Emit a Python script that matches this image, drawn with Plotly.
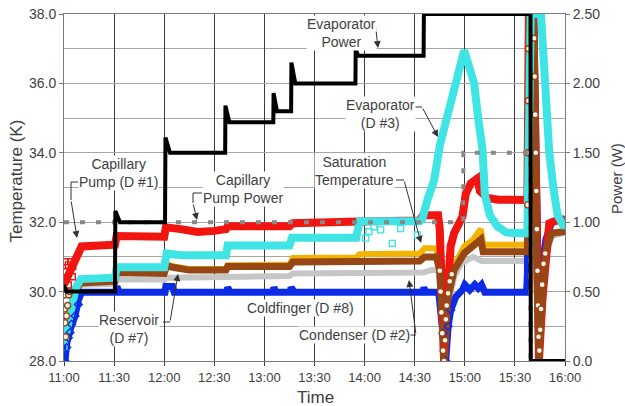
import plotly.graph_objects as go

DAY = "2021-01-01 "


def ts(lst):
    return [DAY + t for t in lst]


# ------------------------------------------------------------------ data
time_ticks = ["11:00", "11:30", "12:00", "12:30", "13:00", "13:30",
              "14:00", "14:30", "15:00", "15:30", "16:00"]
temp_ticks = [28, 30, 32, 34, 36, 38]
power_tickvals = [0.0, 0.5, 1.0, 1.5, 2.0, 2.5]
power_ticktext = ["0.0", "0.50", "1.00", "1.50", "2.00", "2.50"]

# Evaporator power (W)
evap_pw_t = ["11:00:00", "11:01:30", "11:30:30", "11:30:45", "11:33:30", "12:00:30",
             "12:00:45", "12:03:30", "12:36:30", "12:36:40", "12:39:00", "13:05:20",
             "13:05:30", "13:07:30", "13:16:00", "13:16:10", "13:18:30", "13:54:30",
             "13:54:40", "13:56:00", "14:35:20", "14:35:30", "15:39:20", "15:39:30",
             "16:00:00"]
evap_pw = [0.55, 0.50, 0.50, 1.08, 1.00, 1.00,
           1.61, 1.50, 1.50, 1.84, 1.72, 1.72,
           1.93, 1.80, 1.80, 2.15, 2.00, 2.00,
           2.25, 2.20, 2.20, 2.50, 2.50, 0.00,
           0.00]

# Capillary pump power (W)
cap_pw_t = ["11:00:00", "14:59:00", "14:59:10", "15:39:10", "15:39:20", "16:00:00"]
cap_pw = [1.00, 1.00, 1.50, 1.50, 0.00, 0.00]

# Capillary Pump (D #1)  [K]
red_t = ["11:00:00", "11:03:30", "11:06:30", "11:10:30", "11:30:30", "11:31:30", "12:00:00",
         "12:01:00", "12:10:00", "12:20:00", "12:30:00", "12:37:00", "12:38:00", "13:15:00",
         "13:17:00", "13:55:00", "13:57:00", "14:33:00", "14:35:00", "14:44:00", "14:45:00",
         "14:46:00", "14:47:00", "14:47:36", "14:48:30", "14:49:30", "14:51:30", "14:53:36",
         "14:58:36", "15:00:36", "15:03:36", "15:07:36", "15:09:00", "15:13:36", "15:20:00",
         "15:37:30", "15:38:20", "15:41:00", "15:42:30", "15:44:24", "15:46:30", "15:48:36",
         "15:50:36", "15:55:00", "16:00:00"]
red_v = [30.2, 30.55, 30.95, 31.3, 31.35, 31.6, 31.58,
         31.85, 31.8, 31.72, 31.75, 31.8, 31.88, 31.88,
         31.97, 31.97, 32.02, 32.05, 32.2, 32.2, 31.8,
         30.4, 29.0, 28.0, 29.0, 30.24, 31.3, 31.68,
         32.16, 32.83, 33.12, 33.26, 32.9, 32.7, 32.65,
         32.64, 38.0, 38.0, 31.5, 28.0, 29.8, 31.2,
         31.97, 32.05, 32.05]
red_mk_t = ["11:00:36", "11:01:12", "11:02:36", "11:04:00", "11:05:12", "11:00:36",
            "11:02:36", "11:05:00", "14:45:20", "14:45:50", "14:46:20", "14:46:50", "14:47:20"]
red_mk_v = [30.86, 30.57, 30.77, 30.86, 30.72, 30.33,
            30.19, 30.43, 31.5, 30.8, 30.0, 29.2, 28.4]

# Evaporator (D #3)  [K]
cyan_t = ["11:00:00", "11:02:00", "11:04:00", "11:07:00", "11:10:00", "11:30:30", "11:31:30",
          "12:00:00", "12:01:30", "12:10:00", "12:37:00", "12:38:00", "13:15:00", "13:16:30",
          "13:55:00", "13:57:00", "14:33:00", "14:34:36", "14:37:36", "14:41:36", "14:45:00",
          "14:50:00", "14:55:00", "14:59:36", "15:00:36", "15:05:36", "15:08:00", "15:10:36",
          "15:12:00", "15:15:00", "15:19:36", "15:25:00", "15:37:30", "15:38:20", "15:39:30",
          "15:45:36", "15:48:36", "15:50:36", "15:53:00", "15:55:36", "15:59:36", "16:00:00"]
cyan_v = [28.5, 28.9, 29.5, 30.1, 30.36, 30.4, 30.7,
          30.7, 31.1, 31.05, 31.05, 31.33, 31.33, 31.55,
          31.55, 32.03, 32.03, 32.1, 32.64, 33.2, 34.2,
          35.2, 36.1, 36.95, 36.8, 36.0, 35.0, 34.1,
          32.8, 32.2, 31.87, 31.7, 31.68, 34.0, 38.0,
          38.0, 35.0, 34.0, 33.0, 32.2, 31.85, 31.9]
cyan_mk_t = ["11:00:00", "11:00:36", "11:01:12", "11:02:36", "11:03:36",
             "14:00:36", "14:02:36", "14:05:36", "14:09:36", "14:16:36", "14:21:36", "14:31:36"]
cyan_mk_v = [28.4, 28.69, 28.98, 29.27, 29.46,
             31.54, 31.73, 31.87, 31.78, 31.39, 31.82, 31.63]

# Reservoir (D #7)  [K]
brown_t = ["11:00:00", "11:02:00", "11:04:00", "11:07:00", "11:10:00", "11:30:30", "11:31:30",
           "12:00:00", "12:01:30", "12:05:00", "12:15:00", "12:37:00", "12:38:00", "13:15:00",
           "13:17:00", "13:55:00", "14:00:00", "14:33:00", "14:36:00", "14:43:00", "14:45:00",
           "14:46:00", "14:47:36", "14:49:36", "14:53:36", "14:59:36", "15:05:00", "15:09:36",
           "15:11:00", "15:20:00", "15:37:30", "15:38:20", "15:41:20", "15:43:00", "15:44:24",
           "15:46:00", "15:48:36", "15:52:00", "16:00:00"]
brown_v = [28.8, 29.2, 29.6, 30.05, 30.25, 30.3, 30.55,
           30.52, 30.75, 30.7, 30.62, 30.62, 30.72, 30.72,
           30.85, 30.85, 30.88, 30.88, 31.0, 31.0, 30.6,
           29.5, 28.0, 29.76, 30.62, 31.1, 31.3, 31.5,
           31.15, 31.15, 31.15, 38.0, 38.0, 31.0, 28.0,
           29.5, 31.2, 31.68, 31.73]
brown_mk_t = ["11:00:12", "11:00:24", "11:00:36", "11:01:00", "11:01:30", "11:02:10", "11:02:50",
              "11:03:30", "14:45:00", "14:45:30", "14:46:00", "14:46:30", "14:47:00", "14:47:36",
              "14:48:10", "14:48:40", "14:49:10", "14:50:00", "14:51:00", "14:52:10",
              "15:37:40", "15:37:50", "15:38:00", "15:38:10", "15:41:30", "15:41:50",
              "15:42:10", "15:42:30", "15:42:50", "15:43:10", "15:43:30", "15:43:50",
              "15:44:10", "15:44:40", "15:45:10", "15:45:40", "15:46:20", "15:47:10", "15:48:10"]
brown_mk_v = [29.9, 29.5, 29.1, 28.7, 29.3, 29.6, 29.9,
              30.0, 30.6, 30.0, 29.4, 28.8, 28.3, 28.0,
              28.6, 29.2, 29.6, 29.95, 30.3, 30.5,
              32.5, 34.0, 35.5, 37.0, 37.3, 36.2,
              35.1, 34.0, 32.9, 31.8, 30.6, 29.6,
              28.7, 28.3, 28.9, 29.5, 30.2, 30.8, 31.1]

# Coldfinger (D #8)  [K]
blue_t = ["11:00:36", "11:01:36", "11:03:36", "11:06:36", "11:08:36", "11:10:36", "11:31:00",
          "11:31:40", "11:33:00", "12:00:30", "12:01:00", "12:05:00", "12:06:00", "12:37:30",
          "12:38:00", "12:39:30", "13:05:00", "13:05:40", "13:07:00", "13:15:30", "13:16:00",
          "13:18:00", "14:34:30", "14:35:30", "14:37:00", "14:44:24", "14:46:30", "14:48:36",
          "14:50:00", "14:51:36", "14:54:36", "14:58:36", "15:00:00", "15:03:00", "15:06:00",
          "15:08:00", "15:10:00", "15:12:00", "15:37:00", "15:37:30", "15:38:20", "15:41:20",
          "15:43:00", "15:44:24", "15:46:00", "15:48:36", "15:52:00", "16:00:00"]
blue_v = [28.0, 28.5, 28.9, 29.3, 29.76, 29.98, 29.98,
          30.15, 29.98, 29.98, 30.15, 30.15, 29.98, 29.98,
          30.12, 29.98, 29.98, 30.12, 29.98, 29.98, 30.12,
          29.98, 29.98, 30.1, 29.98, 29.98, 29.0, 28.0,
          29.0, 29.47, 29.85, 30.05, 30.2, 30.05, 30.2,
          30.1, 30.2, 29.98, 29.98, 30.5, 38.0, 38.0,
          33.0, 29.5, 30.5, 31.5, 32.0, 32.1]
blue_mk_t = ["11:00:36", "11:01:36", "11:02:36", "11:03:36", "11:04:36", "11:06:36", "11:08:36",
             "14:47:00", "14:48:36", "14:50:00", "14:51:36"]
blue_mk_v = [28.0, 28.39, 28.67, 28.82, 29.06, 29.3, 29.63,
             28.8, 28.0, 29.0, 29.47]

# Condenser (D #2)  [K]
gray_t = ["11:00:00", "11:04:00", "11:07:00", "11:10:00", "11:30:30", "11:31:30", "12:00:00",
          "12:01:30", "12:37:00", "12:38:00", "13:15:00", "13:17:00", "14:35:00", "14:40:00",
          "14:44:00", "14:45:00", "14:46:30", "14:47:36", "14:49:36", "14:53:36", "14:58:00",
          "15:05:00", "15:10:00", "15:37:30", "15:38:20", "15:41:20", "15:44:24", "15:48:36",
          "15:52:00", "16:00:00"]
gray_v = [28.8, 29.5, 30.0, 30.2, 30.22, 30.35, 30.35,
          30.4, 30.38, 30.42, 30.45, 30.52, 30.55, 30.62,
          30.62, 30.3, 29.0, 28.0, 29.5, 30.42, 30.82,
          31.0, 30.88, 30.88, 38.0, 38.0, 28.0, 31.0,
          31.6, 31.7]

# Saturation temperature  [K]
orange_t = ["11:10:00", "11:30:30", "11:31:30", "12:00:00", "12:01:30", "12:05:00", "12:15:00",
            "12:37:00", "12:38:00", "13:15:00", "13:17:00", "13:55:00", "13:57:00", "14:33:00",
            "14:36:00", "14:43:00", "14:45:00", "14:46:00", "14:47:36", "14:49:36", "14:53:36",
            "14:59:36", "15:05:00", "15:09:36", "15:11:00", "15:37:30", "15:38:20", "15:41:20",
            "15:44:24", "15:48:36", "15:52:00", "16:00:00"]
orange_v = [30.3, 30.33, 30.58, 30.55, 30.8, 30.73, 30.65,
            30.65, 30.76, 30.78, 30.97, 30.98, 31.08, 31.1,
            31.25, 31.25, 30.6, 29.5, 28.0, 29.76, 30.75,
            31.3, 31.5, 31.8, 31.35, 31.35, 38.0, 38.0,
            28.0, 31.2, 31.7, 31.75]

# ------------------------------------------------------------------ styles
RED = "#f2140f"
CYAN = "#3fe4e4"
BROWN = "#974716"
ORANGE = "#f2b400"
BLUE = "#0b2be6"
LGRAY = "#c6c6c6"
TXT = "#404040"
FONT = "Liberation Sans, Arial, sans-serif"

fig = go.Figure()


def band(t, v, color, width, yaxis="y", dash=None):
    fig.add_trace(go.Scatter(x=ts(t), y=v, mode="lines", yaxis=yaxis,
                             line=dict(color=color, width=width, dash=dash),
                             hoverinfo="skip", showlegend=False))


def marks(t, v, color, symbol, fill=None, size=6):
    fig.add_trace(go.Scatter(x=ts(t), y=v, mode="markers",
                             marker=dict(symbol=symbol, size=size,
                                         color=fill if fill else color,
                                         line=dict(color=color, width=1.4)),
                             hoverinfo="skip", showlegend=False))


band(gray_t, gray_v, LGRAY, 6)
band(orange_t, orange_v, ORANGE, 6)
band(blue_t, blue_v, BLUE, 7)
band(red_t, red_v, RED, 8)
band(brown_t, brown_v, BROWN, 7)
band(cyan_t, cyan_v, CYAN, 8)
marks(red_mk_t, red_mk_v, RED, "square-open")
marks(cyan_mk_t, cyan_mk_v, CYAN, "square-open")
marks(blue_mk_t, blue_mk_v, BLUE, "diamond-open")
marks(brown_mk_t, brown_mk_v, BROWN, "circle", fill="#fff4ec")

band(cap_pw_t, cap_pw, "#888888", 4, yaxis="y2", dash="5px,11px")
band(evap_pw_t, evap_pw, "#000000", 4, yaxis="y2")

# ------------------------------------------------------------------ layout
X0, X1, Y0, Y1 = 64, 565, 14, 361


def pxx(x):
    return (x - X0) / (X1 - X0)


def pyy(y):
    return (Y1 - y) / (Y1 - Y0)


annotations = []
labels = [
    ("Capillary<br>Pump (D #1)", 118, 173.5),
    ("Capillary<br>Pump Power", 243, 188.5),
    ("Evaporator<br>Power", 341, 33),
    ("Evaporator<br>(D #3)", 380, 114.5),
    ("Saturation<br>Temperature", 354, 170.5),
    ("Reservoir<br>(D #7)", 129, 329),
    ("Coldfinger (D #8)", 300, 307.5),
    ("Condenser (D #2)", 354, 335),
]
for text, x, y in labels:
    annotations.append(dict(text=text, x=pxx(x), y=pyy(y), xref="paper", yref="paper",
                            xanchor="center", yanchor="middle",
                            showarrow=False, align="center", bgcolor="white", borderpad=0,
                            font=dict(family=FONT, size=14, color=TXT)))

leaders = [
    ([(78, 182), (71, 182), (71, 200)], (71, 200), (77, 238)),
    ([(202, 193), (193, 193), (193, 203)], (193, 203), (197, 220)),
    ([(368, 23), (375, 23), (376, 30)], (376, 30), (378, 48)),
    ([(415, 107), (422, 107)], (422, 107), (438, 137)),
    ([(396, 180), (404, 180)], (404, 180), (421, 243)),
    ([(163, 322), (170, 322)], (170, 322), (178, 274)),
    ([(410, 335), (416, 335)], (416, 335), (409, 280)),
]
shapes = []
for pts, tail, head in leaders:
    for (xa, ya), (xb, yb) in zip(pts[:-1], pts[1:]):
        shapes.append(dict(type="line", xref="paper", yref="paper",
                           x0=pxx(xa), y0=pyy(ya), x1=pxx(xb), y1=pyy(yb),
                           line=dict(color="#333333", width=1), layer="above"))
    annotations.append(dict(text="", x=pxx(head[0]), y=pyy(head[1]), xref="paper", yref="paper",
                            ax=tail[0] - head[0], ay=tail[1] - head[1], showarrow=True,
                            arrowhead=2, arrowsize=1.4, arrowwidth=1, arrowcolor="#333333",
                            standoff=0))

# axis titles
annotations.append(dict(text="Temperature (K)", x=pxx(16), y=pyy(181.5), xref="paper", yref="paper",
                        xanchor="center", yanchor="middle",
                        showarrow=False, textangle=-90, font=dict(family=FONT, size=17, color=TXT)))
annotations.append(dict(text="Power (W)", x=pxx(616), y=pyy(179), xref="paper", yref="paper",
                        xanchor="center", yanchor="middle",
                        showarrow=False, textangle=-90, font=dict(family=FONT, size=15, color=TXT)))
annotations.append(dict(text="Time", x=pxx(315), y=pyy(397), xref="paper", yref="paper",
                        xanchor="center", yanchor="middle",
                        showarrow=False, font=dict(family=FONT, size=17, color=TXT)))

fig.update_layout(
    width=625, height=406,
    margin=dict(l=64, r=60, t=14, b=45, autoexpand=False),
    plot_bgcolor="white", paper_bgcolor="white",
    showlegend=False,
    font=dict(family=FONT, color=TXT),
    annotations=annotations,
    shapes=shapes,
    xaxis=dict(type="date", range=ts([time_ticks[0], time_ticks[-1]]),
               tickvals=ts(time_ticks), ticktext=time_ticks, automargin=False,
               showgrid=True, gridcolor="#3c3c3c", gridwidth=1,
               ticks="outside", ticklen=4, tickcolor="#3c3c3c",
               tickfont=dict(size=13, color=TXT),
               showline=True, linecolor="#7a7a7a", mirror=True, zeroline=False),
    yaxis=dict(range=[28, 38], tickvals=temp_ticks, tickformat=".1f", automargin=False,
               showgrid=True, gridcolor="#a6a6a6", gridwidth=1.2,
               minor=dict(dtick=1, tick0=28, showgrid=True, gridcolor="#a6a6a6", gridwidth=1.2),
               ticks="outside", ticklen=4, tickcolor="#7a7a7a",
               tickfont=dict(size=14, color=TXT),
               showline=True, linecolor="#7a7a7a", mirror=True, zeroline=False),
    yaxis2=dict(range=[0, 2.5], overlaying="y", side="right", automargin=False,
                tickvals=power_tickvals, ticktext=power_ticktext,
                showgrid=False, zeroline=False, ticks="outside", ticklen=4,
                tickcolor="#7a7a7a", tickfont=dict(size=14, color=TXT)),
)

fig.write_html("out.html", config={"displayModeBar": False},
               post_script="document.body.style.margin='0';document.body.style.overflow='hidden';")
